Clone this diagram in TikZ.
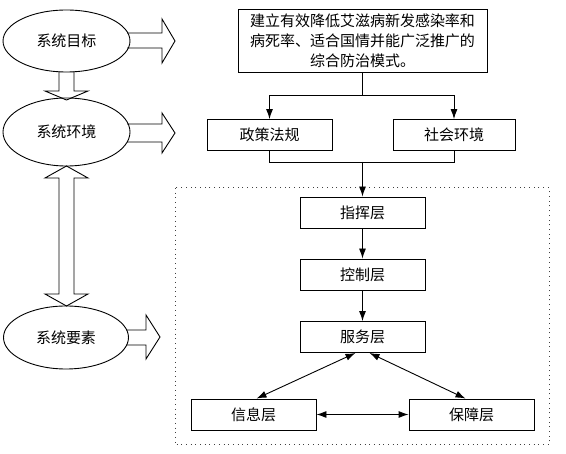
\documentclass[tikz,border=0pt]{standalone}
\usepackage{fontspec}
\setmainfont{Noto Sans CJK SC}
\usetikzlibrary{shapes.geometric,arrows.meta}
\begin{document}
\begin{tikzpicture}[x=1pt,y=-1pt,
  line width=0.9pt,
  ell/.style={draw,ellipse,inner sep=0pt,font=\fontsize{15}{18}\selectfont},
  box/.style={draw,rectangle,inner sep=0pt,minimum width=125pt,minimum height=31pt,font=\fontsize{15}{18}\selectfont},
  arr/.style={-{Latex[length=10pt,width=7pt]}},
  arrb/.style={{Latex[length=10pt,width=7pt]}-{Latex[length=10pt,width=7pt]}},
  blk/.style={draw,line join=miter},
  frame/.style={draw=black!75,line width=1pt,dash pattern=on 1pt off 3.7pt}]
\useasboundingbox (0,0) rectangle (566,454);
% left ellipses
\node[ell,minimum width=127pt,minimum height=62pt] (goal) at (66.5,41) {系统目标};
\node[ell,minimum width=127pt,minimum height=68pt] (env) at (66.5,132) {系统环境};
\node[ell,minimum width=125pt,minimum height=63pt] (elem) at (66,337.5) {系统要素};
% block arrows
\draw[blk] (127,33) -- (162,33) -- (162,19) -- (175,41) -- (162,63) -- (162,48) -- (127,48);
\draw[blk] (127,124) -- (162,124) -- (162,113) -- (175,133) -- (162,153) -- (162,142) -- (127,142);
\draw[blk] (126,330) -- (146,330) -- (146,315) -- (160,337) -- (146,359) -- (146,345) -- (126,345);
\draw[blk] (59,71.5) -- (59,91) -- (45,91) -- (66.5,100) -- (88,91) -- (74,91) -- (74,71.5);
\draw[blk] (59,294) -- (45,294) -- (66.5,306) -- (88,294) -- (74,294) -- (74,178) -- (88,178) -- (66.5,166) -- (45,178) -- (59,178) -- cycle;
% right side
\node[draw,inner sep=0pt,minimum width=249pt,minimum height=63pt,align=center,font=\fontsize{15}{20}\selectfont] (top) at (362.5,40.5)
  {建立有效降低艾滋病新发感染率和\\病死率、适合国情并能广泛推广的\\综合防治模式。};
\node[box] (policy) at (269.5,135) {政策法规};
\node[box,minimum width=122pt] (social) at (454,135) {社会环境};
\draw[frame] (175,188) rectangle (549,445);
\node[box] (cmd) at (362.5,212.5) {指挥层};
\node[box] (ctrl) at (362.5,274.5) {控制层};
\node[box] (serv) at (362.5,337) {服务层};
\node[box] (info) at (253.5,414.5) {信息层};
\node[box] (guar) at (471.5,414.5) {保障层};
\coordinate (j1) at (362.5,95);
\coordinate (j2) at (362.5,162);
\draw (top.south) -- (j1);
\draw[arr] (j1) -| (policy.north);
\draw[arr] (j1) -| (social.north);
\draw (policy.south) |- (j2);
\draw (social.south) |- (j2);
\draw[arr] (j2) -- (cmd.north);
\draw[arr] (cmd) -- (ctrl);
\draw[arr] (ctrl) -- (serv);
\draw[arrb] ([xshift=-7pt]serv.south) -- ([xshift=3pt]info.north);
\draw[arrb] ([xshift=7pt]serv.south) -- ([xshift=-6pt]guar.north);
\draw[arrb] (info) -- (guar);
\end{tikzpicture}
\end{document}
